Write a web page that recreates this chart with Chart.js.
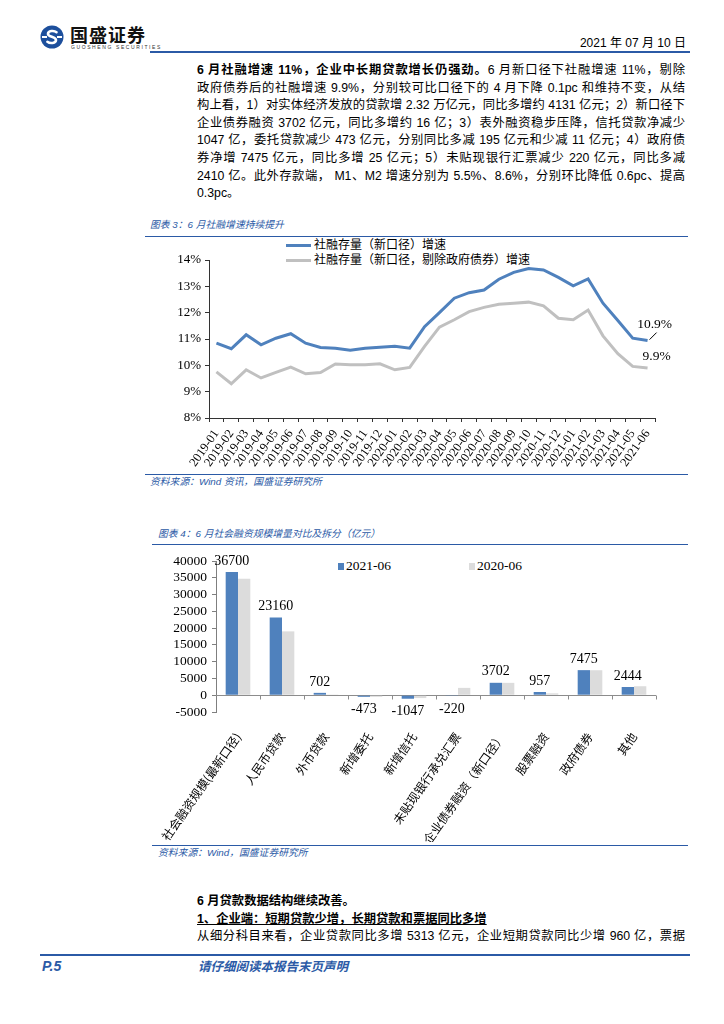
<!DOCTYPE html>
<html>
<head>
<meta charset="utf-8">
<script src="https://cdn.jsdelivr.net/npm/chart.js@4.4.0/dist/chart.umd.min.js"></script>
<style>
  body { margin: 0; background: #fff; }
  #page { position: relative; width: 724px; height: 1024px; overflow: hidden; background: #fff;
          font-family: "Liberation Sans", "Noto Sans CJK SC", sans-serif; color: #000; }
  .abs { position: absolute; }
  .rule { position: absolute; height: 0; border-top: 2px solid #2b5aa6; }
  .thin { border-top-width: 1.5px; }
  .para { position: absolute; left: 197px; width: 488px; font-size: 12.3px; line-height: 17.6px; }
  .para div { white-space: nowrap; height: 17.6px; }
  .para div.j { white-space: normal; text-align: justify; text-align-last: justify; }
  .cap { position: absolute; font-size: 9.8px; font-style: italic; color: #2b5aa6; white-space: nowrap;
         font-family: "Liberation Sans", "Noto Sans CJK SC", sans-serif; line-height: 12px; }
  .box { position: absolute; }
  .lg { position: absolute; white-space: nowrap; font-size: 12px; line-height: 14px; }
  .lg i { display: inline-block; vertical-align: middle; margin-right: 3px; }
</style>
</head>
<body>
<div id="page">

  <!-- header -->
  <svg class="abs" style="left:40px;top:25px" width="24" height="24" viewBox="0 0 24 24">
    <circle cx="12" cy="12" r="11.5" fill="#1d4f9c"/>
    <path d="M16.5 7.2 C14 5.2 8 5.6 8 9 C8 12 16 11.6 16 15 C16 18.4 10 18.8 7.4 16.8"
          fill="none" stroke="#fff" stroke-width="2.6" stroke-linecap="round"/>
    <rect x="2" y="11" width="5" height="2" fill="#fff"/>
    <rect x="17" y="11" width="5" height="2" fill="#fff"/>
  </svg>
  <div class="abs" style="left:70px;top:24px;font-size:18px;font-weight:bold;line-height:20px;font-family:'Noto Sans CJK SC';letter-spacing:1px;color:#111">国盛证券</div>
  <div class="abs" style="left:71px;top:44px;font-size:5px;line-height:6px;letter-spacing:1.6px;color:#333">GUOSHENG SECURITIES</div>
  <div class="abs" style="right:38px;top:36px;font-size:12px;line-height:15px;white-space:nowrap">2021 年 07 月 10 日</div>
  <div class="rule" style="left:150px;width:540px;top:51px"></div>

  <!-- paragraph -->
  <div class="para" style="top:62px">
    <div class="j"><span><b>6 月社融增速 11%，企业中长期贷款增长仍强劲。</b>6 月新口径下社融增速 11%，剔除</span></div>
    <div class="j"><span>政府债券后的社融增速 9.9%，分别较可比口径下的 4 月下降 0.1pc 和维持不变，从结</span></div>
    <div class="j"><span>构上看，1）对实体经济发放的贷款增 2.32 万亿元，同比多增约 4131 亿元；2）新口径下</span></div>
    <div class="j"><span>企业债券融资 3702 亿元，同比多增约 16 亿；3）表外融资稳步压降，信托贷款净减少</span></div>
    <div class="j"><span>1047 亿，委托贷款减少 473 亿元，分别同比多减 195 亿元和少减 11 亿元；4）政府债</span></div>
    <div class="j"><span>券净增 7475 亿元，同比多增 25 亿元；5）未贴现银行汇票减少 220 亿元，同比多减</span></div>
    <div class="j"><span>2410 亿。此外存款端， M1、M2 增速分别为 5.5%、8.6%，分别环比降低 0.6pc、提高</span></div>
    <div><span>0.3pc。</span></div>
  </div>

  <!-- chart 1 -->
  <div class="cap" style="left:150px;top:219px">图表 3：6 月社融增速持续提升</div>
  <div class="rule thin" style="left:145px;width:543px;top:236px"></div>
  <div id="legend1"></div>
  <div class="box" style="left:140px;top:240px;width:550px;height:230px"><canvas id="lineChart"></canvas></div>
  <div class="rule thin" style="left:145px;width:543px;top:474px"></div>
  <div class="cap" style="left:150px;top:476px">资料来源：Wind 资讯，国盛证券研究所</div>

  <!-- chart 2 -->
  <div class="cap" style="left:158px;top:528px">图表 4：6 月社会融资规模增量对比及拆分（亿元）</div>
  <div class="rule thin" style="left:152px;width:536px;top:544px"></div>
  <div id="legend2"></div>
  <div class="box" style="left:130px;top:545px;width:560px;height:297px"><canvas id="barChart"></canvas></div>
  <div class="rule thin" style="left:152px;width:536px;top:845px"></div>
  <div class="cap" style="left:158px;top:847px">资料来源：Wind，国盛证券研究所</div>

  <!-- following text -->
  <div class="para" style="top:893px">
    <div><span><b>6 月贷款数据结构继续改善。</b></span></div>
    <div><span><b><u>1、企业端：短期贷款少增，长期贷款和票据同比多增</u></b></span></div>
    <div class="j"><span>从细分科目来看，企业贷款同比多增 5313 亿元，企业短期贷款同比少增 960 亿，票据</span></div>
  </div>

  <!-- footer -->
  <div class="rule" style="left:40px;width:650px;top:954px"></div>
  <div class="abs" style="left:42px;top:958px;font-size:14px;font-weight:bold;font-style:italic;color:#2b5aa6;line-height:16px">P.5</div>
  <div class="abs" style="left:198px;top:958px;font-size:12.5px;font-weight:bold;font-style:italic;color:#2b5aa6;line-height:16px;font-family:'Noto Sans CJK SC'">请仔细阅读本报告末页声明</div>
</div>

<script>
// ---- chart 1 data: 社融存量增速 (%)
var months = ['2019-01','2019-02','2019-03','2019-04','2019-05','2019-06','2019-07','2019-08','2019-09','2019-10',
              '2019-11','2019-12','2020-01','2020-02','2020-03','2020-04','2020-05','2020-06','2020-07','2020-08',
              '2020-09','2020-10','2020-11','2020-12','2021-01','2021-02','2021-03','2021-04','2021-05','2021-06'];
var tsfGrowth = [10.84,10.63,11.16,10.78,11.03,11.2,10.84,10.68,10.65,10.57,
                 10.65,10.69,10.72,10.65,11.47,12.0,12.55,12.76,12.86,13.27,
                 13.53,13.68,13.62,13.34,13.02,13.28,12.36,11.7,11.03,10.94];
var tsfExGov = [9.75,9.3,9.83,9.52,9.73,9.93,9.68,9.73,10.05,10.02,
                10.02,10.06,9.83,9.92,10.72,11.45,11.73,12.04,12.2,12.32,
                12.36,12.4,12.26,11.79,11.73,12.1,11.12,10.44,9.96,9.9];
var lineNames = ['社融存量（新口径）增速', '社融存量（新口径，剔除政府债券）增速'];

// ---- chart 2 data: 社融增量拆分 (亿元)
var items = ['社会融资规模(最新口径)','人民币贷款','外币贷款','新增委托','新增信托',
             '未贴现银行承兑汇票','企业债券融资（新口径）','股票融资','政府债券','其他'];
var jun2021 = [36700, 23160, 702, -473, -1047, -220, 3702, 957, 7475, 2444];
var jun2020 = [34681, 19029, 60, -484, -852, 2190, 3686, 555, 7450, 2680];
var barNames = ['2021-06', '2020-06'];

var blue = '#4f81bd';
var grey = '#c0c0c0';
var barGrey = '#dcdcdc';
var serif = '"Liberation Serif", "Times New Roman", serif';
var cjk = '"Noto Sans CJK SC", sans-serif';

// spread each paragraph line towards the full column width (css justify does the rest)
function justifyLines() {
  var rows = document.querySelectorAll('.para div.j');
  for (var k = 0; k < rows.length; k++) {
    var d = rows[k], s = d.firstElementChild;
    d.style.whiteSpace = 'nowrap';
    s.style.letterSpacing = '0px';
    var w = s.getBoundingClientRect().width;
    var n = s.textContent.length;
    s.style.letterSpacing = ((487 - w) / n) + 'px';
    d.style.whiteSpace = 'normal';
  }
}
try { justifyLines(); } catch (e) {}

Chart.defaults.font.family = serif;
Chart.defaults.color = '#000';
Chart.defaults.animation = false;

// html legends built from the dataset names
function lineLegend() {
  var colors = [blue, grey];
  var html = '';
  for (var i = 0; i < lineNames.length; i++) {
    html += '<div class="lg" style="left:286px;top:' + (237 + i * 15) + 'px;font-family:' + cjk.replace(/"/g, "'") + '">' +
      '<i style="width:25px;height:3px;background:' + colors[i] + '"></i>' + lineNames[i] + '</div>';
  }
  document.getElementById('legend1').innerHTML = html;
}
function barLegend() {
  var colors = [blue, barGrey];
  var lefts = [338, 469];
  var html = '';
  for (var i = 0; i < barNames.length; i++) {
    html += '<div class="lg" style="left:' + lefts[i] + 'px;top:558px;font-size:13.5px;line-height:16px;font-family:' + serif.replace(/"/g, "'") + '">' +
      '<i style="width:6px;height:7px;margin-right:2px;background:' + colors[i] + '"></i>' + barNames[i] + '</div>';
  }
  document.getElementById('legend2').innerHTML = html;
}
lineLegend();
barLegend();

// labels at the end of the two lines
var endLabels = {
  id: 'endLabels',
  afterDatasetsDraw: function(chart) {
    var ctx = chart.ctx;
    var n = months.length - 1;
    var p0 = chart.getDatasetMeta(0).data[n];
    var p1 = chart.getDatasetMeta(1).data[n];
    ctx.save();
    ctx.font = '13.5px ' + serif;
    ctx.fillStyle = '#000';
    ctx.textAlign = 'center';
    ctx.textBaseline = 'middle';
    ctx.fillText(tsfGrowth[n].toFixed(1) + '%', p0.x + 7, p0.y - 16);
    ctx.fillText(tsfExGov[n].toFixed(1) + '%', p1.x + 9, p1.y - 12);
    ctx.beginPath();
    ctx.moveTo(p0.x + 2, p0.y - 1);
    ctx.lineTo(p0.x + 9, p0.y - 8);
    ctx.strokeStyle = '#000';
    ctx.lineWidth = 1;
    ctx.stroke();
    ctx.restore();
  }
};

new Chart(document.getElementById('lineChart'), {
  type: 'line',
  data: {
    labels: months,
    datasets: [
      { label: lineNames[0], data: tsfGrowth, borderColor: blue, borderWidth: 3, pointRadius: 0, tension: 0 },
      { label: lineNames[1], data: tsfExGov, borderColor: grey, borderWidth: 3, pointRadius: 0, tension: 0 }
    ]
  },
  options: {
    responsive: true,
    maintainAspectRatio: false,
    layout: { padding: { top: 20, right: 35, left: 0, bottom: 0 } },
    plugins: { legend: { display: false }, tooltip: { enabled: false } },
    scales: {
      x: {
        offset: true,
        afterFit: function(s) { s.height = 52; },
        grid: { offset: true, drawOnChartArea: false, tickLength: 4, color: '#333' },
        border: { color: '#333' },
        ticks: { autoSkip: false, minRotation: 55, maxRotation: 55, padding: 5, font: { size: 12.5 } }
      },
      y: {
        min: 8, max: 14,
        afterFit: function(s) { s.width = 69; },
        grid: { drawOnChartArea: false, tickLength: 4, color: '#333' },
        border: { color: '#333' },
        ticks: { stepSize: 1, autoSkip: false, padding: 4, font: { size: 13 }, callback: function(v) { return v + '%'; } }
      }
    }
  },
  plugins: [endLabels]
});

// zero line with category ticks, plus value labels for 2021-06
var barExtras = {
  id: 'barExtras',
  beforeDatasetsDraw: function(chart) {
    var ctx = chart.ctx, x = chart.scales.x, y = chart.scales.y;
    var y0 = Math.round(y.getPixelForValue(0)) + 0.5;
    ctx.save();
    ctx.strokeStyle = '#8c8c8c';
    ctx.lineWidth = 1;
    ctx.beginPath();
    ctx.moveTo(x.left, y0);
    ctx.lineTo(x.right, y0);
    for (var i = 1; i <= items.length; i++) {
      var px = Math.round(x.getPixelForValue(i - 0.5)) + 0.5;
      ctx.moveTo(px, y0);
      ctx.lineTo(px, y0 + 4);
    }
    ctx.stroke();
    ctx.restore();
  },
  afterDatasetsDraw: function(chart) {
    var ctx = chart.ctx;
    var bars = chart.getDatasetMeta(0).data;
    ctx.save();
    ctx.font = '14px ' + serif;
    ctx.fillStyle = '#000';
    ctx.textAlign = 'center';
    ctx.textBaseline = 'middle';
    bars.forEach(function(b, i) {
      var v = jun2021[i];
      ctx.fillText(String(v), b.x, v >= 0 ? b.y - 11 : b.y + 13);
    });
    ctx.restore();
  }
};

new Chart(document.getElementById('barChart'), {
  type: 'bar',
  data: {
    labels: items,
    datasets: [
      { label: barNames[0], data: jun2021, backgroundColor: blue, categoryPercentage: 0.56, barPercentage: 1.0 },
      { label: barNames[1], data: jun2020, backgroundColor: barGrey, categoryPercentage: 0.56, barPercentage: 1.0 }
    ]
  },
  options: {
    responsive: true,
    maintainAspectRatio: false,
    layout: { padding: { top: 16, right: 34, left: 0, bottom: 0 } },
    plugins: { legend: { display: false }, tooltip: { enabled: false } },
    scales: {
      x: {
        afterFit: function(s) { s.height = 130; },
        grid: { display: false },
        border: { display: false },
        ticks: { autoSkip: false, minRotation: 55, maxRotation: 55, padding: 10, font: { family: cjk, size: 12 } }
      },
      y: {
        min: -5000, max: 40000,
        afterFit: function(s) { s.width = 86; },
        grid: { drawOnChartArea: false, tickLength: 4, color: '#7f7f7f' },
        border: { color: '#7f7f7f' },
        ticks: { stepSize: 5000, autoSkip: false, padding: 5, font: { size: 13.5 },
                 callback: function(v) { return String(v); } }
      }
    }
  },
  plugins: [barExtras]
});

window.addEventListener('load', function() { try { justifyLines(); } catch (e) {} });
</script>
</body>
</html>
